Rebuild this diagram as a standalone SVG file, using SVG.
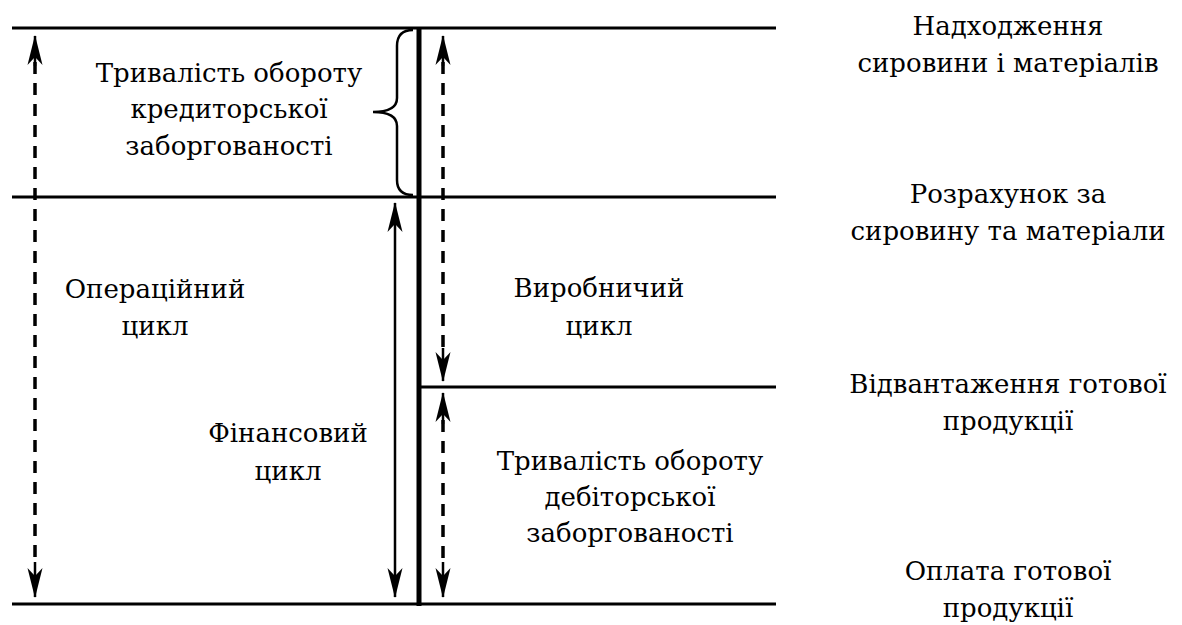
<svg xmlns="http://www.w3.org/2000/svg" width="1182" height="625" viewBox="0 0 1182 625">
<style>
.t text{font-size:26px;fill:#000;text-anchor:middle}
.h{stroke:#000;stroke-width:3;fill:none}
.dash{stroke:#000;stroke-width:3.5;fill:none;stroke-dasharray:12 9}
.sol{stroke:#000;stroke-width:2.5;fill:none}
</style>
<defs>
<marker id="ah" viewBox="0 0 30 18" refX="29" refY="9" markerWidth="30" markerHeight="18" markerUnits="userSpaceOnUse" orient="auto-start-reverse">
<path d="M0,1.5 L30,9 L0,16.5 L8,9 Z" fill="#000"/>
</marker>
</defs>
<g id="lines">
<line class="h" x1="12" y1="28" x2="776" y2="28"/>
<line class="h" x1="12" y1="197" x2="776" y2="197"/>
<line class="h" x1="420" y1="387" x2="776" y2="387"/>
<line class="h" x1="12" y1="604" x2="776" y2="604"/>
<line stroke="#000" stroke-width="5" x1="419" y1="27" x2="419" y2="606"/>
</g>
<g id="connectors">
<line class="dash" x1="35" y1="62" x2="35" y2="566"/>
<line class="sol" x1="35" y1="66" x2="35" y2="36" marker-end="url(#ah)" stroke-width="0.1"/>
<line class="sol" x1="35" y1="562" x2="35" y2="597" marker-end="url(#ah)" stroke-width="0.1"/>
<line class="sol" x1="395" y1="203" x2="395" y2="597" marker-start="url(#ah)" marker-end="url(#ah)"/>
<line class="dash" x1="443" y1="62" x2="443" y2="352"/>
<line class="sol" x1="443" y1="66" x2="443" y2="36" marker-end="url(#ah)" stroke-width="0.1"/>
<line class="sol" x1="443" y1="348" x2="443" y2="381" marker-end="url(#ah)" stroke-width="0.1"/>
<line class="dash" x1="443" y1="420" x2="443" y2="566"/>
<line class="sol" x1="443" y1="424" x2="443" y2="393" marker-end="url(#ah)" stroke-width="0.1"/>
<line class="sol" x1="443" y1="562" x2="443" y2="597" marker-end="url(#ah)" stroke-width="0.1"/>
<path class="sol" stroke-width="2" d="M413,30 Q397,30 397,46 L397,98 Q397,112 373,112 Q397,112 397,126 L397,180 Q397,195 413,195"/>
</g>
<g class="t" font-family="'DejaVu Serif', 'Liberation Serif', serif">
<g id="n-credit"><text x="229" y="82">Тривалість обороту</text><text x="229" y="118">кредиторської</text><text x="229" y="155">заборгованості</text></g>
<g id="n-op"><text x="155" y="298">Операційний</text><text x="155" y="335">цикл</text></g>
<g id="n-fin"><text x="288" y="442">Фінансовий</text><text x="288" y="480">цикл</text></g>
<g id="n-prod"><text x="599" y="297">Виробничий</text><text x="599" y="335">цикл</text></g>
<g id="n-deb"><text x="630" y="470">Тривалість обороту</text><text x="630" y="506">дебіторської</text><text x="630" y="542">заборгованості</text></g>
<g id="n-r1"><text x="1008" y="35">Надходження</text><text x="1008" y="72">сировини і матеріалів</text></g>
<g id="n-r2"><text x="1008" y="203">Розрахунок за</text><text x="1008" y="240">сировину та матеріали</text></g>
<g id="n-r3"><text x="1008" y="393">Відвантаження готової</text><text x="1008" y="430">продукції</text></g>
<g id="n-r4"><text x="1008" y="580">Оплата готової</text><text x="1008" y="617">продукції</text></g>
</g>
</svg>
